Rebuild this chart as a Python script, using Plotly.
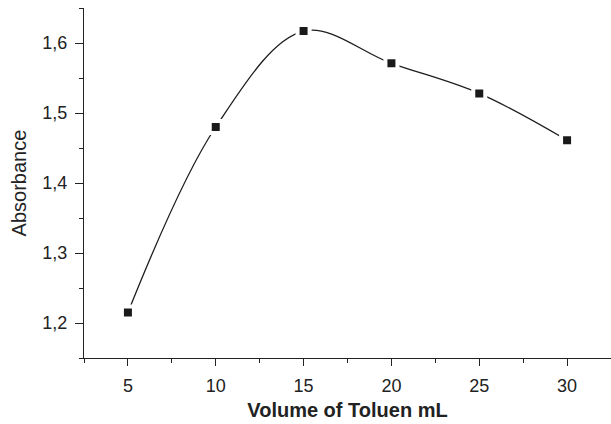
import plotly.graph_objects as go

volume = [5, 10, 15, 20, 25, 30]
absorbance = [1.215, 1.480, 1.617, 1.571, 1.528, 1.461]
x_ticks = [5, 10, 15, 20, 25, 30]
x_minor = [2.5, 7.5, 12.5, 17.5, 22.5, 27.5, 32.5]
y_ticks = [1.2, 1.3, 1.4, 1.5, 1.6]
y_labels = ["1,2", "1,3", "1,4", "1,5", "1,6"]
y_minor = [1.15, 1.25, 1.35, 1.45, 1.55, 1.65]

fig = go.Figure()
fig.add_trace(go.Scatter(
    x=volume, y=absorbance, mode="lines",
    line=dict(color="#1e1e1e", width=1.3, shape="spline", smoothing=1.0),
    hoverinfo="skip", showlegend=False, cliponaxis=False))
fig.add_trace(go.Scatter(
    x=volume, y=absorbance, mode="markers",
    marker=dict(symbol="square", size=12, color="#1a1a1a",
                line=dict(color="white", width=4)),
    showlegend=False, cliponaxis=False))

font = "Liberation Sans, Arial, sans-serif"
fig.update_layout(
    width=611, height=424,
    margin=dict(l=84, r=0, t=8, b=66),
    plot_bgcolor="white", paper_bgcolor="white",
    font=dict(family=font, color="#222222", size=18),
)
fig.update_xaxes(
    range=[2.5, 32.5], tickvals=x_ticks, ticks="outside", ticklen=7,
    tickwidth=1.2, tickcolor="#222222", showline=True, linecolor="#222222",
    linewidth=1.3, showgrid=False, zeroline=False, ticklabelstandoff=4,
    minor=dict(tickvals=x_minor, ticks="outside",
               ticklen=4, tickwidth=1.2, tickcolor="#222222", showgrid=False),
    title=dict(text="<b>Volume of Toluen mL</b>", font=dict(size=20), standoff=8),
    tickfont=dict(size=18),
)
fig.update_yaxes(
    range=[1.15, 1.65], tickvals=y_ticks, ticktext=y_labels, ticks="outside",
    ticklen=8, tickwidth=1.2, tickcolor="#222222", showline=True,
    linecolor="#222222", linewidth=1.3, showgrid=False, zeroline=False,
    ticklabelstandoff=4,
    minor=dict(tickvals=y_minor, ticks="outside",
               ticklen=4, tickwidth=1.2, tickcolor="#222222", showgrid=False),
    title=dict(text="Absorbance", font=dict(size=20), standoff=10),
    tickfont=dict(size=18),
)
fig.write_html("out.html")
